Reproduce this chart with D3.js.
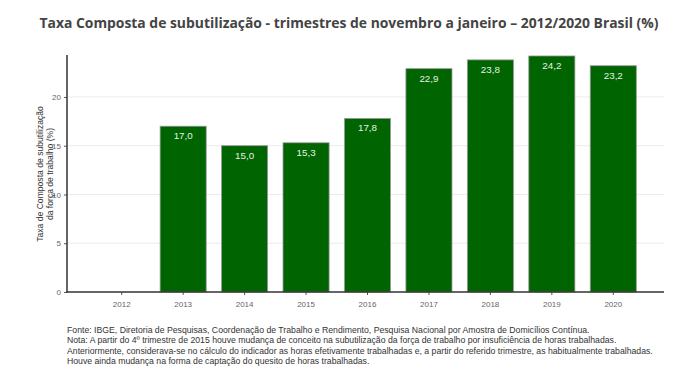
<!DOCTYPE html>
<html>
<head>
<meta charset="utf-8">
<script src="https://cdn.jsdelivr.net/npm/d3@7"></script>
<style>
  body { margin: 0; background: #fff; }
  svg { display: block; }
</style>
</head>
<body>
<div id="chart"></div>
<script>
// dados
var anos = ["2012", "2013", "2014", "2015", "2016", "2017", "2018", "2019", "2020"];
var taxa = [null, 17.0, 15.0, 15.3, 17.8, 22.9, 23.8, 24.2, 23.2];
var yTicks = [0, 5, 10, 15, 20];
var notas = [
  "Fonte: IBGE, Diretoria de Pesquisas, Coordenação de Trabalho e Rendimento, Pesquisa Nacional por Amostra de Domicílios Contínua.",
  "Nota: A partir do 4º trimestre de 2015 houve mudança de conceito na subutilização da força de trabalho por insuficiência de horas trabalhadas.",
  "Anteriormente, considerava-se no cálculo do indicador as horas efetivamente trabalhadas e, a partir do referido trimestre, as habitualmente trabalhadas.",
  "Houve ainda mudança na forma de captação do quesito de horas trabalhadas."
];

var w = 681, h = 377;
var svg = d3.select("#chart").append("svg").attr("width", w).attr("height", h);

var x = d3.scaleBand().domain(anos).range([91, 644]).paddingInner(0.25).paddingOuter(0.125);
var y = d3.scaleLinear().domain([0, 24.3]).range([292, 55]);

// titulo
svg.append("text")
  .attr("x", 349).attr("y", 28)
  .attr("text-anchor", "middle")
  .attr("font-family", "Open Sans")
  .attr("font-weight", "bold")
  .attr("font-size", "13.9px")
  .attr("fill", "#444")
  .text("Taxa Composta de subutilização - trimestres de novembro a janeiro – 2012/2020 Brasil (%)");

// grade
svg.selectAll(".grid").data(yTicks.filter(function(d){ return d > 0; })).enter()
  .append("line")
  .attr("x1", 68).attr("x2", 664)
  .attr("y1", function(d){ return y(d); })
  .attr("y2", function(d){ return y(d); })
  .attr("stroke", "#ebebeb").attr("stroke-width", 1);

// barras
var dados = anos.map(function(a, i){ return {ano: a, v: taxa[i]}; }).filter(function(d){ return d.v != null; });
svg.selectAll(".bar").data(dados).enter()
  .append("rect")
  .attr("x", function(d){ return x(d.ano); })
  .attr("width", x.bandwidth())
  .attr("y", function(d){ return y(d.v); })
  .attr("height", function(d){ return y(0) - y(d.v); })
  .attr("fill", "#006400")
  .attr("stroke", "#999").attr("stroke-width", 0.8);

svg.selectAll(".lbl").data(dados).enter()
  .append("text")
  .attr("x", function(d){ return x(d.ano) + x.bandwidth() / 2; })
  .attr("y", function(d){ return y(d.v) + 13; })
  .attr("text-anchor", "middle")
  .attr("font-family", "Liberation Sans, Arial")
  .attr("font-size", "9.8px")
  .attr("fill", "#e6f2e6")
  .text(function(d){ return d.v.toFixed(1).replace(".", ","); });

// eixos
var yAxis = svg.append("g").attr("transform", "translate(67,0)")
  .call(d3.axisLeft(y).tickValues(yTicks).tickSize(3).tickSizeOuter(0));
var xAxis = svg.append("g").attr("transform", "translate(0,292)")
  .call(d3.axisBottom(x).tickSize(3).tickSizeOuter(0));
[yAxis, xAxis].forEach(function(g){
  g.select(".domain").remove();
  g.selectAll(".tick line").attr("stroke", "#555");
  g.selectAll(".tick text")
    .attr("font-family", "Liberation Sans, Arial")
    .attr("font-size", "8px")
    .attr("fill", "#666");
});
xAxis.selectAll(".tick text").attr("dy", "1.1em");
svg.append("line").attr("x1", 67).attr("x2", 67).attr("y1", 55).attr("y2", 292.5)
  .attr("stroke", "#333").attr("stroke-width", 1.5);
svg.append("line").attr("x1", 66.5).attr("x2", 664).attr("y1", 292).attr("y2", 292)
  .attr("stroke", "#333").attr("stroke-width", 1.5);

// titulo do eixo y
var yt = svg.append("text")
  .attr("transform", "translate(44,174) rotate(-90)")
  .attr("text-anchor", "middle")
  .attr("font-family", "Liberation Sans, Arial")
  .attr("font-size", "8.6px")
  .attr("fill", "#333");
yt.append("tspan").attr("x", 0).attr("dy", "-0.1em").text("Taxa de Composta de subutilização");
yt.append("tspan").attr("x", 0).attr("dy", "1.1em").text("da força de trabalho (%)");

// notas
svg.selectAll(".nota").data(notas).enter()
  .append("text")
  .attr("x", 67)
  .attr("y", function(d, i){ return 333 + i * 10.3; })
  .attr("font-family", "Liberation Sans, Arial")
  .attr("font-size", "8.7px")
  .attr("fill", "#333")
  .text(function(d){ return d; });
</script>
</body>
</html>
